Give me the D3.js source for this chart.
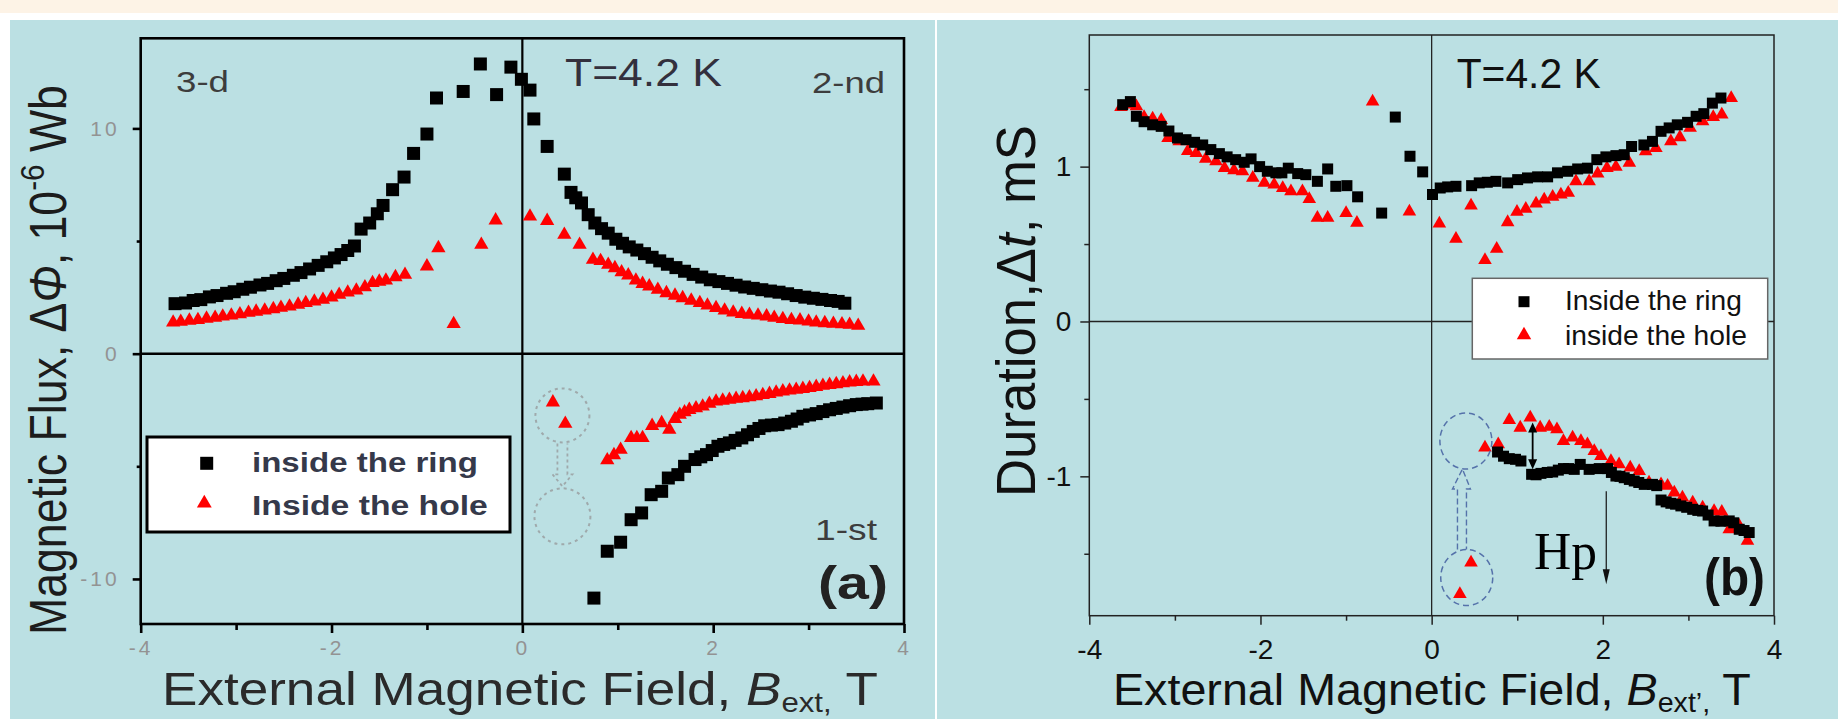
<!DOCTYPE html>
<html><head><meta charset="utf-8">
<script src="https://cdn.jsdelivr.net/npm/d3@7"></script>
<style>body{margin:0;background:#fff}svg{display:block}</style>
</head><body><svg id="c" width="1838" height="719"></svg>
<script>
// ---------- DATA ----------
const xTicks = [-4, -2, 0, 2, 4];
const xMinor = [-3, -1, 1, 3];
const fluxTicks = [-10, 0, 10];
const fluxMinor = [-5, 5];
const durTicks = [-1, 0, 1];
const durMinor = [-1.5, -0.5, 0.5, 1.5];

// panel (a): magnetic flux, 10^-6 Wb
const fluxRing = [[-3.64,2.22],[-3.53,2.25],[-3.45,2.36],[-3.37,2.40],[-3.28,2.52],[-3.20,2.58],[-3.10,2.68],[-3.02,2.75],[-2.93,2.86],[-2.85,2.95],[-2.75,3.05],[-2.67,3.12],[-2.58,3.24],[-2.50,3.34],[-2.40,3.48],[-2.32,3.60],[-2.23,3.76],[-2.14,3.92],[-2.05,4.08],[-1.97,4.25],[-1.90,4.40],[-1.83,4.58],[-1.76,4.78],[-1.69,5.53],[-1.60,5.80],[-1.52,6.21],[-1.46,6.58],[-1.36,7.28],[-1.24,7.84],[-1.14,8.89],[-1.00,9.75],[-0.90,11.35],[-0.62,11.64],[-0.44,12.86],[-0.27,11.50],[-0.12,12.72],[-0.01,12.18],[0.08,11.70],[0.12,10.42],[0.26,9.20],[0.44,7.97],[0.51,7.16],[0.56,6.92],[0.62,6.69],[0.69,6.17],[0.76,5.80],[0.83,5.55],[0.90,5.35],[0.98,5.08],[1.05,4.90],[1.12,4.74],[1.20,4.60],[1.28,4.44],[1.36,4.28],[1.44,4.12],[1.52,3.97],[1.61,3.82],[1.70,3.66],[1.79,3.52],[1.88,3.40],[1.97,3.28],[2.06,3.20],[2.15,3.12],[2.24,3.04],[2.33,2.96],[2.42,2.90],[2.51,2.84],[2.60,2.78],[2.69,2.73],[2.78,2.66],[2.87,2.58],[2.96,2.51],[3.05,2.46],[3.14,2.41],[3.23,2.36],[3.31,2.32],[3.38,2.24],
  [0.75,-10.85],[0.89,-8.77],[1.03,-8.37],[1.14,-7.37],[1.25,-7.07],[1.35,-6.26],[1.46,-6.11],[1.53,-5.52],[1.63,-5.37],[1.70,-5.00],[1.81,-4.70],[1.87,-4.58],[1.93,-4.48],[1.99,-4.30],[2.05,-4.11],[2.11,-4.03],[2.17,-3.96],[2.23,-3.85],[2.30,-3.74],[2.36,-3.60],[2.42,-3.45],[2.48,-3.32],[2.54,-3.20],[2.61,-3.17],[2.68,-3.15],[2.75,-3.08],[2.82,-3.00],[2.88,-2.90],[2.94,-2.78],[3.01,-2.72],[3.08,-2.66],[3.15,-2.57],[3.22,-2.49],[3.29,-2.43],[3.36,-2.37],[3.43,-2.31],[3.50,-2.26],[3.56,-2.24],[3.62,-2.22],[3.71,-2.19]];
const fluxHole = [[-3.66,1.39],[-3.58,1.42],[-3.49,1.47],[-3.40,1.50],[-3.31,1.56],[-3.22,1.60],[-3.14,1.65],[-3.05,1.70],[-2.96,1.75],[-2.87,1.82],[-2.79,1.87],[-2.70,1.92],[-2.61,1.98],[-2.53,2.04],[-2.44,2.10],[-2.35,2.18],[-2.27,2.25],[-2.18,2.32],[-2.09,2.40],[-2.00,2.50],[-1.92,2.62],[-1.83,2.72],[-1.74,2.81],[-1.65,2.95],[-1.57,3.14],[-1.50,3.20],[-1.43,3.25],[-1.33,3.40],[-1.23,3.51],[-1.00,3.88],[-0.88,4.69],[-0.72,1.32],[-0.43,4.84],[-0.28,5.92],[0.08,6.09],[0.26,5.90],[0.44,5.28],[0.60,4.84],[0.74,4.17],[0.82,4.12],[0.90,3.95],[0.97,3.80],[1.04,3.62],[1.11,3.48],[1.19,3.25],[1.26,3.10],[1.33,2.99],[1.42,2.84],[1.51,2.69],[1.60,2.58],[1.68,2.47],[1.77,2.36],[1.86,2.25],[1.94,2.14],[2.03,2.03],[2.12,1.92],[2.21,1.83],[2.30,1.77],[2.38,1.73],[2.47,1.70],[2.56,1.66],[2.64,1.60],[2.73,1.54],[2.82,1.50],[2.91,1.48],[3.00,1.43],[3.08,1.39],[3.17,1.36],[3.26,1.33],[3.35,1.31],[3.43,1.29],[3.52,1.24],
  [0.32,-2.16],[0.45,-3.11],[0.89,-4.73],[0.96,-4.50],[1.03,-4.26],[1.14,-3.74],[1.20,-3.74],[1.26,-3.74],[1.36,-3.20],[1.46,-3.08],[1.54,-3.37],[1.60,-2.90],[1.65,-2.71],[1.70,-2.60],[1.75,-2.49],[1.82,-2.42],[1.89,-2.34],[1.96,-2.22],[2.03,-2.12],[2.10,-2.08],[2.17,-2.04],[2.24,-2.00],[2.31,-1.97],[2.38,-1.93],[2.45,-1.89],[2.52,-1.83],[2.59,-1.78],[2.66,-1.72],[2.73,-1.67],[2.80,-1.63],[2.87,-1.60],[2.94,-1.56],[3.01,-1.52],[3.08,-1.47],[3.15,-1.42],[3.22,-1.38],[3.29,-1.35],[3.36,-1.31],[3.43,-1.27],[3.50,-1.25],[3.57,-1.23],[3.68,-1.23]];

// panel (b): duration, mS
const durRing = [[-3.61,1.40],[-3.52,1.42],[-3.45,1.325],[-3.36,1.29],[-3.26,1.27],[-3.16,1.26],[-3.07,1.23],[-2.97,1.185],[-2.87,1.174],[-2.77,1.157],[-2.675,1.14],[-2.58,1.11],[-2.48,1.084],[-2.39,1.063],[-2.29,1.045],[-2.19,1.028],[-2.11,1.05],[-2.01,1.0],[-1.92,0.97],[-1.82,0.96],[-1.75,0.96],[-1.675,0.99],[-1.565,0.955],[-1.47,0.948],[-1.335,0.905],[-1.215,0.985],[-1.12,0.873],[-0.99,0.877],[-0.865,0.805],[-0.584,0.70],[-0.425,1.32],[-0.253,1.067],[-0.105,0.966],[0.01,0.82],[0.10,0.862],[0.187,0.869],[0.284,0.873],[0.467,0.877],[0.556,0.895],[0.65,0.899],[0.751,0.905],[0.888,0.895],[1.005,0.916],[1.12,0.927],[1.238,0.934],[1.355,0.934],[1.47,0.96],[1.59,0.97],[1.706,0.985],[1.82,0.99],[1.93,1.045],[2.036,1.063],[2.153,1.071],[2.25,1.077],[2.336,1.13],[2.48,1.14],[2.58,1.163],[2.68,1.228],[2.775,1.25],[2.87,1.27],[2.99,1.286],[3.09,1.325],[3.18,1.342],[3.28,1.41],[3.38,1.443],
  [0.77,-0.843],[0.84,-0.87],[0.907,-0.886],[0.98,-0.89],[1.043,-0.901],[1.168,-0.987],[1.22,-0.99],[1.277,-0.981],[1.35,-0.975],[1.414,-0.972],[1.48,-0.96],[1.54,-0.95],[1.60,-0.95],[1.666,-0.955],[1.736,-0.923],[1.84,-0.955],[1.958,-0.95],[2.056,-0.95],[2.10,-0.975],[2.153,-0.998],[2.20,-1.0],[2.25,-1.009],[2.31,-1.02],[2.367,-1.03],[2.42,-1.04],[2.484,-1.052],[2.58,-1.052],[2.63,-1.06],[2.68,-1.153],[2.74,-1.165],[2.795,-1.174],[2.85,-1.18],[2.912,-1.191],[2.98,-1.2],[3.05,-1.213],[3.11,-1.22],[3.166,-1.224],[3.23,-1.25],[3.30,-1.288],[3.38,-1.29],[3.477,-1.288],[3.53,-1.30],[3.594,-1.342],[3.65,-1.35],[3.71,-1.363]];
const durHole = [[-3.63,1.385],[-3.54,1.40],[-3.45,1.39],[-3.36,1.32],[-3.26,1.31],[-3.16,1.30],[-3.08,1.185],[-2.95,1.163],[-2.85,1.10],[-2.75,1.088],[-2.64,1.05],[-2.52,1.034],[-2.42,0.99],[-2.31,0.976],[-2.21,0.97],[-2.09,0.927],[-1.955,0.895],[-1.84,0.884],[-1.74,0.862],[-1.644,0.84],[-1.51,0.84],[-1.43,0.79],[-1.335,0.669],[-1.215,0.669],[-1.0,0.70],[-0.873,0.637],[-0.69,1.42],[-0.26,0.71],[0.09,0.632],[0.284,0.534],[0.46,0.748],[0.623,0.396],[0.76,0.469],[0.888,0.641],[0.997,0.708],[1.10,0.727],[1.22,0.761],[1.315,0.787],[1.414,0.805],[1.51,0.82],[1.596,0.83],[1.686,0.905],[1.84,0.905],[1.94,0.955],[2.048,0.99],[2.153,0.998],[2.31,1.024],[2.50,1.099],[2.62,1.12],[2.795,1.163],[2.90,1.19],[3.02,1.25],[3.166,1.292],[3.29,1.32],[3.39,1.336],[3.50,1.443],
  [0.33,-1.76],[0.46,-1.557],[0.623,-0.815],[0.778,-0.794],[0.907,-0.637],[1.035,-0.686],[1.152,-0.621],[1.268,-0.686],[1.374,-0.68],[1.464,-0.697],[1.54,-0.772],[1.647,-0.75],[1.744,-0.772],[1.82,-0.794],[1.90,-0.837],[1.978,-0.869],[2.095,-0.901],[2.19,-0.923],[2.32,-0.944],[2.425,-0.966],[2.54,-1.04],[2.68,-1.052],[2.757,-1.062],[2.835,-1.105],[2.93,-1.137],[3.05,-1.17],[3.166,-1.202],[3.30,-1.224],[3.39,-1.23],[3.477,-1.342],[3.594,-1.32],[3.69,-1.417]];

// ---------- DRAWING ----------
const FONT = '"Liberation Sans", Arial, Helvetica, sans-serif';
const BLUE = '#bbe0e3';
const svg = d3.select('#c').attr('font-family', FONT);

svg.append('rect').attr('width', 1838).attr('height', 719).attr('fill', '#fff');
svg.append('rect').attr('width', 1838).attr('height', 13).attr('fill', '#fdf3e6');
svg.append('rect').attr('x', 10).attr('y', 20).attr('width', 925).attr('height', 699).attr('fill', BLUE);
svg.append('rect').attr('x', 937).attr('y', 20).attr('width', 901).attr('height', 699).attr('fill', BLUE);

function fit(t, x, y, target, anchor, rot) {
  t.attr('text-anchor', anchor).attr('x', 0).attr('y', 0);
  const w = t.node().getComputedTextLength();
  const k = target / w;
  t.attr('transform', `translate(${x},${y})` + (rot ? ` rotate(${rot})` : '') + ` scale(${k},1)`);
  return t;
}

function axesFor(g, x, y, c) {
  const y0 = y.range()[0], x0 = x.range()[0];
  const f = d => String(d);
  const ax = [
    g.append('g').attr('transform', `translate(0,${y0})`).call(d3.axisBottom(x).tickValues(c.xMaj).tickSize(c.bMaj).tickPadding(c.bPad).tickFormat(f)),
    g.append('g').attr('transform', `translate(0,${y0})`).call(d3.axisBottom(x).tickValues(c.xMin).tickSize(c.bMin).tickFormat('')),
    g.append('g').attr('transform', `translate(${x0},0)`).call(d3.axisLeft(y).tickValues(c.yMaj).tickSize(c.lMaj).tickPadding(c.lPad).tickFormat(f)),
    g.append('g').attr('transform', `translate(${x0},0)`).call(d3.axisLeft(y).tickValues(c.yMin).tickSize(c.lMin).tickFormat(''))
  ];
  ax.forEach(a => {
    a.attr('font-size', null).attr('font-family', null);
    a.select('.domain').remove();
    a.selectAll('line').attr('stroke', c.stroke).attr('stroke-width', c.sw);
    a.selectAll('text').attr('fill', c.color).attr('font-size', c.fs).attr('letter-spacing', c.ls || 0);
  });
}

function plotFrame(g, x, y, sw, col) {
  const [xa, xb] = x.range(), [ya, yb] = y.range();
  g.append('line').attr('x1', x(0)).attr('x2', x(0)).attr('y1', ya).attr('y2', yb).attr('stroke', col).attr('stroke-width', sw * 0.85);
  g.append('line').attr('x1', xa).attr('x2', xb).attr('y1', y(0)).attr('y2', y(0)).attr('stroke', col).attr('stroke-width', sw);
  g.append('rect').attr('x', xa).attr('y', yb).attr('width', xb - xa).attr('height', ya - yb)
    .attr('fill', 'none').attr('stroke', col).attr('stroke-width', sw);
}

// ===== Panel (a) =====
const xL = d3.scaleLinear().domain([-4, 4]).range([140.7, 904]);
const yL = d3.scaleLinear().domain([-12, 14]).range([624, 38.3]);
const gL = svg.append('g');
plotFrame(gL, xL, yL, 2.6, '#000');
axesFor(gL, xL, yL, {xMaj: xTicks, xMin: xMinor, yMaj: fluxTicks, yMin: fluxMinor,
  bMaj: 9, bMin: 6, bPad: 7, lMaj: 8, lMin: 4, lPad: 13, stroke: '#000', sw: 2.6,
  color: '#939393', fs: 21, ls: 3});

const triL = d3.symbol().type(d3.symbolTriangle).size(88);
const sqL = d3.symbol().type(d3.symbolSquare).size(169);
gL.append('g').selectAll('path').data(fluxHole).join('path').attr('d', triL)
  .attr('transform', d => `translate(${xL(d[0])},${yL(d[1])})`).attr('fill', '#ff0000');
gL.append('g').selectAll('path').data(fluxRing).join('path').attr('d', sqL)
  .attr('transform', d => `translate(${xL(d[0])},${yL(d[1])})`).attr('fill', '#000');

// dotted circles + hollow arrow
const cxa = xL(0.42);
gL.append('circle').attr('cx', cxa).attr('cy', yL(-2.74)).attr('r', 27)
  .attr('fill', 'none').attr('stroke', '#9fa9ab').attr('stroke-width', 2).attr('stroke-dasharray', '3 4');
gL.append('circle').attr('cx', cxa).attr('cy', yL(-7.22)).attr('r', 28)
  .attr('fill', 'none').attr('stroke', '#9fa9ab').attr('stroke-width', 2).attr('stroke-dasharray', '3 4');
{
  const top = yL(-2.74) + 28, tip = yL(-7.22) - 30;
  gL.append('path').attr('d', `M${cxa-5},${top} V${tip-12} H${cxa-10} L${cxa},${tip} L${cxa+10},${tip-12} H${cxa+5} V${top}`)
    .attr('fill', 'none').attr('stroke', '#9fa9ab').attr('stroke-width', 1.8).attr('stroke-dasharray', '3 3');
}

// legend (a)
gL.append('rect').attr('x', 147).attr('y', 437).attr('width', 363).attr('height', 95)
  .attr('fill', '#fff').attr('stroke', '#000').attr('stroke-width', 3);
gL.append('path').attr('d', sqL).attr('transform', 'translate(206.7,463.3)').attr('fill', '#000');
gL.append('path').attr('d', d3.symbol().type(d3.symbolTriangle).size(95)).attr('transform', 'translate(204.3,503.3)').attr('fill', '#ff0000');
fit(gL.append('text').attr('font-size', 27).attr('font-weight', 'bold').attr('fill', '#35394a').text('inside the ring'), 252, 471.7, 226, 'start');
fit(gL.append('text').attr('font-size', 27).attr('font-weight', 'bold').attr('fill', '#35394a').text('Inside the hole'), 252, 515, 236, 'start');

// annotations (a)
fit(gL.append('text').attr('font-size', 29).attr('fill', '#3d3d3d').text('3-d'), 176, 92, 53, 'start');
fit(gL.append('text').attr('font-size', 29).attr('fill', '#3d3d3d').text('2-nd'), 812, 93, 73, 'start');
fit(gL.append('text').attr('font-size', 29).attr('fill', '#3d3d3d').text('1-st'), 815, 540, 62, 'start');
fit(gL.append('text').attr('font-size', 39).attr('fill', '#33303d').text('T=4.2 K'), 565, 86, 157, 'start');
fit(gL.append('text').attr('font-size', 46).attr('font-weight', 'bold').attr('fill', '#222').text('(a)'), 818, 599, 70, 'start');

// axis titles (a)
{
  const t = gL.append('text').attr('font-size', 51).attr('fill', '#1c1c1c');
  t.append('tspan').text('Magnetic Flux, Δ');
  t.append('tspan').attr('font-style', 'italic').text('Φ');
  t.append('tspan').text(', 10');
  t.append('tspan').attr('font-size', 34).attr('dy', -22).text('-6');
  t.append('tspan').attr('dy', 22).text(' Wb');
  fit(t, 66, 360, 550, 'middle', -90);
  const u = gL.append('text').attr('font-size', 46).attr('fill', '#2a2a2a');
  u.append('tspan').text('External Magnetic Field, ');
  u.append('tspan').attr('font-style', 'italic').text('B');
  u.append('tspan').attr('font-size', 27).attr('dy', 7).text('ext,');
  u.append('tspan').attr('dy', -7).text(' T');
  fit(u, 162, 705, 716, 'start');
}

// ===== Panel (b) =====
const xR = d3.scaleLinear().domain([-4, 4]).range([1089.3, 1774]);
const yR = d3.scaleLinear().domain([-1.9, 1.85]).range([615.7, 35]);
const gR = svg.append('g');
plotFrame(gR, xR, yR, 1.5, '#222');
axesFor(gR, xR, yR, {xMaj: xTicks, xMin: xMinor, yMaj: durTicks, yMin: durMinor,
  bMaj: 9, bMin: 5, bPad: 14, lMaj: 9, lMin: 5, lPad: 9, stroke: '#222', sw: 1.5,
  color: '#111', fs: 28, ls: 0});

const triR = d3.symbol().type(d3.symbolTriangle).size(80);
const sqR = d3.symbol().type(d3.symbolSquare).size(121);
gR.append('g').selectAll('path').data(durHole).join('path').attr('d', triR)
  .attr('transform', d => `translate(${xR(d[0])},${yR(d[1])})`).attr('fill', '#ff0000');
gR.append('g').selectAll('path').data(durRing).join('path').attr('d', sqR)
  .attr('transform', d => `translate(${xR(d[0])},${yR(d[1])})`).attr('fill', '#000');

// dashed ellipses + hollow arrow
const DASH = '#5572aa';
gR.append('ellipse').attr('cx', xR(0.40)).attr('cy', yR(-0.772)).attr('rx', 26).attr('ry', 28)
  .attr('fill', 'none').attr('stroke', DASH).attr('stroke-width', 1.5).attr('stroke-dasharray', '6 4');
gR.append('ellipse').attr('cx', xR(0.41)).attr('cy', yR(-1.654)).attr('rx', 26).attr('ry', 28)
  .attr('fill', 'none').attr('stroke', DASH).attr('stroke-width', 1.5).attr('stroke-dasharray', '6 4');
{
  const cx = xR(0.36), tip = yR(-0.772) + 28, bot = yR(-1.654) - 28;
  gR.append('path').attr('d', `M${cx-5},${bot} V${tip+20} H${cx-10} L${cx},${tip} L${cx+8},${tip+20} H${cx+4} V${bot}`)
    .attr('fill', 'none').attr('stroke', DASH).attr('stroke-width', 1.4).attr('stroke-dasharray', '6 3');
}
// double arrow
{
  const x = xR(1.18), y1 = yR(-0.652), y2 = yR(-0.955);
  gR.append('line').attr('x1', x).attr('x2', x).attr('y1', y1 + 6).attr('y2', y2 - 6).attr('stroke', '#000').attr('stroke-width', 1.8);
  gR.append('path').attr('d', `M${x},${y1} L${x-4.5},${y1+10} L${x+4.5},${y1+10} Z M${x},${y2} L${x-4.5},${y2-10} L${x+4.5},${y2-10} Z`).attr('fill', '#000');
}
// Hp arrow
{
  const x = xR(2.04), y1 = yR(-1.097), y2 = yR(-1.697);
  gR.append('line').attr('x1', x).attr('x2', x).attr('y1', y1).attr('y2', y2 - 10).attr('stroke', '#111').attr('stroke-width', 1.2);
  gR.append('path').attr('d', `M${x},${y2} L${x-3.5},${y2-15} L${x+3.5},${y2-15} Z`).attr('fill', '#111');
}
fit(gR.append('text').attr('font-family', '"Liberation Serif", "Times New Roman", serif').attr('font-size', 52).attr('fill', '#000').text('Hp'), 1534, 569, 63, 'start');
fit(gR.append('text').attr('font-size', 52).attr('font-weight', 'bold').attr('fill', '#111').text('(b)'), 1704, 595, 61, 'start');
fit(gR.append('text').attr('font-size', 42).attr('fill', '#111').text('T=4.2 K'), 1456.7, 88.3, 144, 'start');

// legend (b)
gR.append('rect').attr('x', 1472.3).attr('y', 278.3).attr('width', 295.4).attr('height', 80.7)
  .attr('fill', '#fff').attr('stroke', '#666').attr('stroke-width', 1.5);
gR.append('path').attr('d', sqR).attr('transform', 'translate(1524,301.7)').attr('fill', '#000');
gR.append('path').attr('d', d3.symbol().type(d3.symbolTriangle).size(90)).attr('transform', 'translate(1524,335)').attr('fill', '#ff0000');
fit(gR.append('text').attr('font-size', 27).attr('fill', '#111').text('Inside the ring'), 1565, 310, 177, 'start');
fit(gR.append('text').attr('font-size', 27).attr('fill', '#111').text('inside the hole'), 1565, 345, 182, 'start');

// axis titles (b)
{
  const t = gR.append('text').attr('font-size', 56).attr('fill', '#111');
  t.append('tspan').text('Duration,Δ');
  t.append('tspan').attr('font-style', 'italic').text('t');
  t.append('tspan').text(', mS');
  fit(t, 1035, 311, 372, 'middle', -90);
  const u = gR.append('text').attr('font-size', 44).attr('fill', '#111');
  u.append('tspan').text('External Magnetic Field, ');
  u.append('tspan').attr('font-style', 'italic').text('B');
  u.append('tspan').attr('font-size', 27).attr('dy', 7).text('ext’,');
  u.append('tspan').attr('dy', -7).text(' T');
  fit(u, 1113, 705, 638, 'start');
}
</script></body></html>
